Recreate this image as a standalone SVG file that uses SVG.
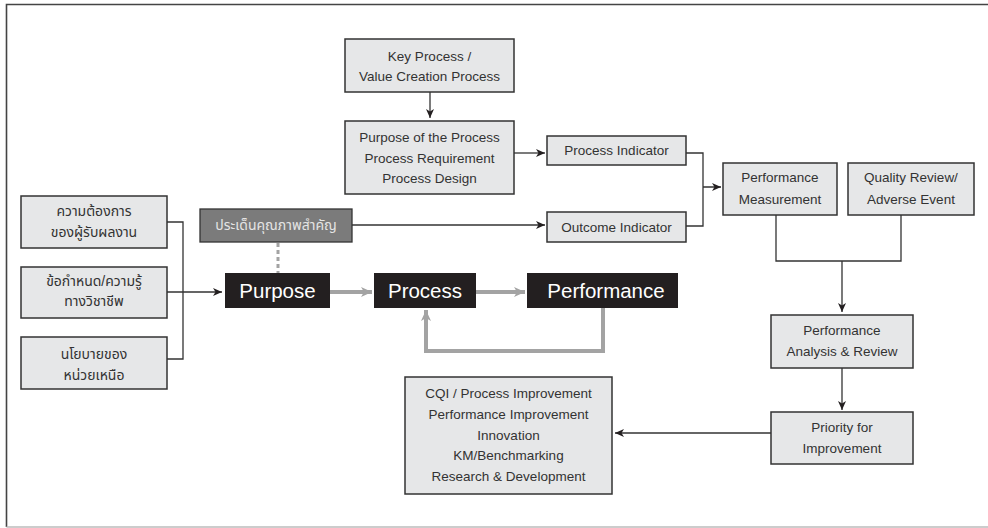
<svg xmlns="http://www.w3.org/2000/svg" width="988" height="528" viewBox="0 0 988 528">
<defs>
<style>
.box{fill:#e6e7e8;stroke:#333;stroke-width:1.5}
.dark{fill:#231f20}
.hl{fill:#7b7b7b;stroke:#333;stroke-width:1.3}
.t{font-family:"Liberation Sans",Arial,sans-serif;font-size:13.5px;fill:#333;text-anchor:middle}
.th{font-family:"Liberation Sans","Noto Sans Thai","Noto Sans",sans-serif;font-size:14px;fill:#333;text-anchor:middle}
.big{font-family:"Liberation Sans",Arial,sans-serif;font-size:20.5px;fill:#fff;text-anchor:middle}
.ln{fill:none;stroke:#333;stroke-width:1.3}
.gl{fill:none;stroke:#a3a3a3;stroke-width:4}
</style>
<marker id="ah" markerWidth="10" markerHeight="8" refX="9" refY="4" orient="auto" markerUnits="userSpaceOnUse">
<path d="M0,0 L9,4 L0,8 L2.5,4 Z" fill="#231f20"/>
</marker>
<marker id="gh" markerWidth="12" markerHeight="10" refX="11" refY="5" orient="auto" markerUnits="userSpaceOnUse">
<path d="M0,0 L11,5 L0,10 L3,5 Z" fill="#a3a3a3"/>
</marker>
</defs>
<rect width="988" height="528" fill="#fff"/>
<path d="M988,4.5 H6.5 V527" fill="none" stroke="#444" stroke-width="1.6"/>
<path d="M6.5,527 H988" fill="none" stroke="#bbb" stroke-width="1.5"/>

<g id="connectors">
<path class="ln" d="M167,222 H183 V359 H167 M167,292 H222" marker-end="url(#ah)"/>
<path class="ln" d="M430,92 V118" marker-end="url(#ah)"/>
<path class="ln" d="M514,153 H545" marker-end="url(#ah)"/>
<path class="ln" d="M352,225 H545" marker-end="url(#ah)"/>
<path class="ln" d="M686,153 H703 V226 H686 M703,187 H721" marker-end="url(#ah)"/>
<path class="ln" d="M776,215 V261 H901 V215 M842,261 V312" marker-end="url(#ah)"/>
<path class="ln" d="M842,368 V410" marker-end="url(#ah)"/>
<path class="ln" d="M771,433 H615" marker-end="url(#ah)"/>
<path d="M278,243 V273" fill="none" stroke="#a3a3a3" stroke-width="3" stroke-dasharray="4,3"/>
<path class="gl" d="M330,292 H372" marker-end="url(#gh)"/>
<path class="gl" d="M476,292 H525" marker-end="url(#gh)"/>
<path class="gl" d="M603,308 V351 H426 V310" marker-end="url(#gh)"/>
</g>

<g id="n-need">
<rect class="box" x="21" y="196" width="146" height="52"/>
<text class="th" x="94" y="216">ความต้องการ</text>
<text class="th" x="94" y="237">ของผู้รับผลงาน</text>
</g>
<g id="n-prof">
<rect class="box" x="21" y="267" width="146" height="51"/>
<text class="th" x="94" y="286">ข้อกำหนด/ความรู้</text>
<text class="th" x="94" y="306">ทางวิชาชีพ</text>
</g>
<g id="n-policy">
<rect class="box" x="21" y="337" width="146" height="52"/>
<text class="th" x="94" y="359">นโยบายของ</text>
<text class="th" x="94" y="380">หน่วยเหนือ</text>
</g>
<g id="n-issue">
<rect class="hl" x="200" y="209" width="152" height="33"/>
<text class="th" x="276" y="230" style="fill:#e4e4e4">ประเด็นคุณภาพสำคัญ</text>
</g>
<g id="n-purpose">
<rect class="dark" x="225" y="273" width="105" height="35"/>
<text class="big" x="277.5" y="298">Purpose</text>
</g>
<g id="n-process">
<rect class="dark" x="374" y="273" width="102" height="35"/>
<text class="big" x="425" y="298">Process</text>
</g>
<g id="n-performance">
<rect class="dark" x="527" y="273" width="151" height="35"/>
<text class="big" x="606" y="298">Performance</text>
</g>
<g id="n-key">
<rect class="box" x="345" y="39" width="169" height="53"/>
<text class="t" x="429.5" y="61">Key Process /</text>
<text class="t" x="429.5" y="81">Value Creation Process</text>
</g>
<g id="n-pop">
<rect class="box" x="345" y="121" width="169" height="73"/>
<text class="t" x="429.5" y="142">Purpose of the Process</text>
<text class="t" x="429.5" y="163">Process Requirement</text>
<text class="t" x="429.5" y="183">Process Design</text>
</g>
<g id="n-pi">
<rect class="box" x="547" y="136" width="139" height="29"/>
<text class="t" x="616.5" y="155">Process Indicator</text>
</g>
<g id="n-oi">
<rect class="box" x="547" y="212" width="139" height="30"/>
<text class="t" x="616.5" y="232">Outcome Indicator</text>
</g>
<g id="n-pm">
<rect class="box" x="723" y="163" width="114" height="52"/>
<text class="t" x="780" y="182">Performance</text>
<text class="t" x="780" y="204">Measurement</text>
</g>
<g id="n-qr">
<rect class="box" x="848" y="163" width="126" height="52"/>
<text class="t" x="911" y="182">Quality Review/</text>
<text class="t" x="911" y="204">Adverse Event</text>
</g>
<g id="n-pa">
<rect class="box" x="771" y="315" width="142" height="53"/>
<text class="t" x="842" y="335">Performance</text>
<text class="t" x="842" y="356">Analysis &amp; Review</text>
</g>
<g id="n-prio">
<rect class="box" x="771" y="412" width="142" height="52"/>
<text class="t" x="842" y="432">Priority for</text>
<text class="t" x="842" y="453">Improvement</text>
</g>
<g id="n-cqi">
<rect class="box" x="405" y="377" width="207" height="117"/>
<text class="t" x="508.5" y="398">CQI / Process Improvement</text>
<text class="t" x="508.5" y="419">Performance Improvement</text>
<text class="t" x="508.5" y="440">Innovation</text>
<text class="t" x="508.5" y="460">KM/Benchmarking</text>
<text class="t" x="508.5" y="481">Research &amp; Development</text>
</g>
</svg>
